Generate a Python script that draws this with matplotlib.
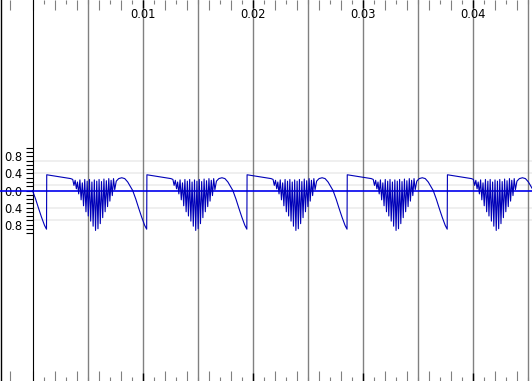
import numpy as np
import matplotlib.pyplot as plt
from matplotlib.ticker import MultipleLocator, FuncFormatter
from matplotlib.transforms import blended_transform_factory

# one period of the waveform (ms after the jump, value)
cycle_ms = [0.00, 2.18, 2.36,
            2.47, 2.58, 2.69, 2.79, 2.90, 3.01, 3.12, 3.23, 3.34, 3.45, 3.56, 3.67,
            3.77, 3.88, 3.99, 4.10, 4.21, 4.32, 4.43, 4.54, 4.65, 4.75, 4.86, 4.97,
            5.08, 5.19, 5.30, 5.41, 5.52, 5.63, 5.73, 5.84, 5.95, 6.06, 6.17,
            6.31, 6.53, 6.81, 7.08, 7.35, 7.62, 7.80, 8.08, 8.35, 8.62, 8.89, 9.07]
cycle_val = [0.37, 0.28, 0.26,
             0.12, 0.24, 0.04, 0.20, -0.08, 0.25, -0.22, 0.18, -0.36, 0.26, -0.50, 0.22,
             -0.60, 0.26, -0.72, 0.20, -0.84, 0.25, -0.94, 0.22, -0.90, 0.26, -0.78, 0.21,
             -0.64, 0.27, -0.50, 0.23, -0.38, 0.28, -0.25, 0.24, -0.12, 0.28, 0.02,
             0.22, 0.28, 0.30, 0.28, 0.20, 0.08, 0.0, -0.20, -0.42, -0.63, -0.82, -0.91]
period_ms = 1000 / 110
zero_cross_ms = 7.80   # waveform starts here at t = 0
n_cycles = 6

x_major = [0.01, 0.02, 0.03, 0.04]
x_grid = [0.005, 0.01, 0.015, 0.02, 0.025, 0.03, 0.035, 0.04, 0.045]
y_major = [-0.8, -0.4, 0.0, 0.4, 0.8]
y_faint = [0.7, 0.4, 0.12, -0.4, -0.7]

xlim = (-0.00295, 0.04533)
ylim = (-4.482, 4.482)

# build the time series from the repeated period
t = []
v = []
for k in range(n_cycles):
    for cm, cv in zip(cycle_ms, cycle_val):
        tt = (k * period_ms + cm - zero_cross_ms) / 1000
        if tt >= -1e-9:
            t.append(max(tt, 0.0))
            v.append(cv)

fig = plt.figure(figsize=(5.32, 3.81), dpi=100)
ax = fig.add_axes([0, 0, 1, 1])
ax.set_xlim(xlim)
ax.set_ylim(ylim)

for y in y_faint:
    ax.axhline(y, xmin=(0 - xlim[0]) / (xlim[1] - xlim[0]), color='#eeeeee', lw=1.3, zorder=0)
for x in x_grid:
    ax.axvline(x, color='#808080', lw=1.0, zorder=1)

ax.axhline(0, color='#0000ee', lw=1.2, zorder=3)
ax.plot(t, v, color='#0000b8', lw=0.8, zorder=4)

# spines
for s in ['top', 'right', 'bottom']:
    ax.spines[s].set_visible(False)
ax.spines['left'].set_position(('data', 0))
ax.spines['left'].set_color('black')
ax.plot([0.001, 0.001], [0, 1], transform=ax.transAxes, color='black', lw=1.0, clip_on=False)

# y axis
ax.yaxis.set_major_locator(plt.FixedLocator(y_major))
ax.yaxis.set_minor_locator(plt.FixedLocator(np.round(np.arange(-1.0, 1.01, 0.1), 2)))
ax.yaxis.set_major_formatter(FuncFormatter(lambda val, pos: f"{abs(val):.1f}"))
ax.tick_params(axis='y', which='both', direction='out', length=5, width=0.8,
               labelsize=8.3, pad=2)

# x axis: ticks on top and bottom pointing in, labels drawn inside
ax.xaxis.set_major_locator(plt.FixedLocator(x_major))
ax.xaxis.set_minor_locator(MultipleLocator(0.002))
ax.tick_params(axis='x', which='major', top=True, bottom=True, direction='in',
               length=6, width=1.0, color='black', labelbottom=False, labeltop=False)
ax.tick_params(axis='x', which='minor', top=True, bottom=True, direction='in',
               length=7, width=0.8, color='#808080')
short_ticks = np.arange(0.001, 0.046, 0.002)
trans = blended_transform_factory(ax.transData, ax.transAxes)
h = 4 / 381
ax.vlines(short_ticks, 0, h, transform=trans, color='#808080', lw=0.8)
ax.vlines(short_ticks, 1 - h, 1, transform=trans, color='#808080', lw=0.8)
for x in x_major:
    ax.text(x, 1 - 15 / 381, f"{x:g}", transform=trans, ha='center', va='center',
            fontsize=8.3)

fig.savefig('out.png', dpi=100)
